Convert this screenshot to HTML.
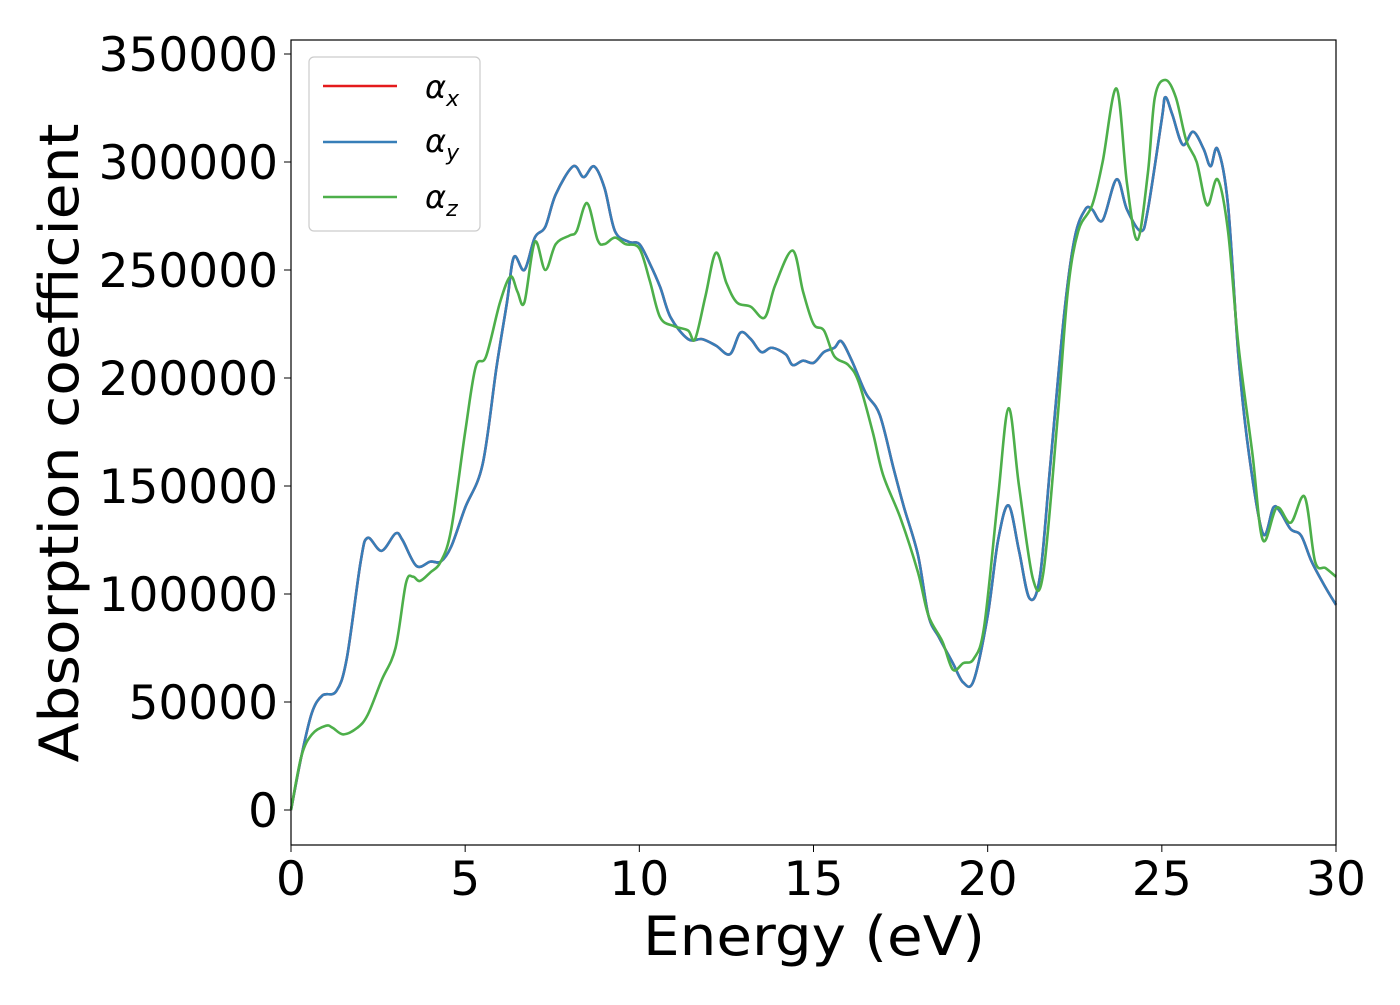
<!DOCTYPE html>
<html><head><meta charset="utf-8"><style>
body{margin:0;background:#fff;}
svg text{font-family:"DejaVu Sans","Liberation Sans",sans-serif;}
</style></head><body>
<svg id="chart" width="1400" height="1000" xmlns="http://www.w3.org/2000/svg">
<rect x="0" y="0" width="1400" height="1000" fill="#fff"/>
<g id="ticks"></g>
<g id="series"></g>
<rect x="291" y="40" width="1045" height="805" fill="none" stroke="#000" stroke-width="1.2"/>
<text x="814" y="955" font-size="54" text-anchor="middle" textLength="342" lengthAdjust="spacingAndGlyphs">Energy (eV)</text>
<text transform="translate(78,443) rotate(-90)" font-size="54" text-anchor="middle" textLength="639" lengthAdjust="spacingAndGlyphs">Absorption coefficient</text>
<g>
<rect x="309" y="57" width="171" height="174" rx="5" fill="#fff" stroke="#ccc" stroke-width="1.2"/>
<line x1="323" y1="86" x2="397" y2="86" stroke="#e41a1c" stroke-width="2.5"/>
<text x="425" y="98" font-size="32" font-style="italic">α<tspan font-size="22" dy="8">x</tspan></text>
<line x1="323" y1="142" x2="397" y2="142" stroke="#377eb8" stroke-width="2.5"/>
<text x="425" y="152" font-size="32" font-style="italic">α<tspan font-size="22" dy="8">y</tspan></text>
<line x1="323" y1="197" x2="397" y2="197" stroke="#4daf4a" stroke-width="2.5"/>
<text x="425" y="208" font-size="32" font-style="italic">α<tspan font-size="22" dy="8">z</tspan></text>
</g>
</svg>
<script>
const xTicks=[0,5,10,15,20,25,30];
const yTicks=[0,50000,100000,150000,200000,250000,300000,350000];
const energyXY=[0,0.3,0.6,0.9,1.3,1.6,2.0,2.2,2.6,3.0,3.2,3.6,4.0,4.3,4.6,5.0,5.5,5.9,6.2,6.4,6.7,7.0,7.3,7.6,8.1,8.4,8.7,9.0,9.3,9.7,10.0,10.3,10.6,10.9,11.4,11.8,12.2,12.6,12.9,13.2,13.5,13.8,14.2,14.4,14.7,15.0,15.3,15.6,15.8,16.1,16.5,16.9,17.3,17.6,18.0,18.3,18.6,19.0,19.3,19.6,20.0,20.3,20.6,20.9,21.2,21.5,21.8,22.2,22.5,22.8,23.0,23.3,23.7,24.0,24.4,24.6,25.0,25.1,25.3,25.6,25.9,26.2,26.4,26.6,26.9,27.2,27.5,27.9,28.2,28.4,28.7,29.0,29.3,29.7,30];
const alphaX=[0,25000,45000,53000,55000,70000,115000,126000,120000,128000,125000,113000,115000,115000,122000,140000,160000,205000,235000,256000,250000,265000,270000,285000,298000,293000,298000,288000,268000,263000,262000,253000,242000,228000,218000,218000,215000,211000,221000,218000,212000,214000,211000,206000,208000,207000,212000,214000,217000,208000,193000,183000,158000,140000,118000,90000,80000,68000,59000,60000,90000,125000,141000,120000,98000,108000,160000,230000,265000,278000,278000,273000,292000,278000,268000,278000,320000,330000,322000,308000,314000,306000,298000,306000,280000,210000,165000,128000,140000,138000,130000,127000,115000,103000,95000];
const alphaY=alphaX.slice();
const energyZ=[0,0.3,0.6,1.0,1.2,1.5,1.9,2.2,2.6,3.0,3.3,3.5,3.7,4.0,4.3,4.6,5.0,5.3,5.6,6.0,6.3,6.5,6.7,7.0,7.3,7.6,8.0,8.2,8.5,8.8,9.0,9.3,9.6,10.0,10.3,10.6,11.0,11.4,11.6,11.9,12.2,12.5,12.8,13.2,13.6,13.9,14.4,14.7,15.0,15.3,15.6,16.0,16.3,16.7,17.0,17.5,18.0,18.3,18.7,19.0,19.3,19.6,19.9,20.3,20.6,20.9,21.3,21.6,22.0,22.3,22.6,23.0,23.3,23.7,24.0,24.3,24.6,24.8,25.1,25.4,25.7,26.0,26.3,26.6,26.9,27.2,27.6,27.9,28.3,28.7,29.1,29.4,29.7,30];
const alphaZ=[0,25000,35000,39000,38000,35000,38000,44000,60000,75000,105000,108000,106000,110000,115000,130000,175000,205000,210000,235000,247000,240000,235000,263000,250000,262000,266000,268000,281000,264000,262000,265000,262000,260000,245000,228000,224000,222000,218000,238000,258000,244000,235000,233000,228000,243000,259000,240000,225000,222000,210000,206000,198000,175000,155000,135000,110000,90000,78000,65000,68000,70000,85000,145000,186000,150000,107000,110000,180000,240000,268000,280000,300000,334000,290000,264000,295000,330000,338000,330000,310000,300000,280000,292000,268000,215000,165000,125000,140000,133000,145000,115000,112000,108000];
const NS="http://www.w3.org/2000/svg";
const X0=291,X1=1336,Y0=810,Y350=54;
const xs=e=>X0+(e/30)*(X1-X0);
const ys=v=>Y0-(v/350000)*(Y0-Y350);
const tg=document.getElementById('ticks');
xTicks.forEach(t=>{
 const l=document.createElementNS(NS,'line');
 
 
 l.setAttribute('x1',xs(t));l.setAttribute('x2',xs(t));l.setAttribute('y1',845);l.setAttribute('y2',852);l.setAttribute('stroke','#000');
 tg.appendChild(l);
 const tx=document.createElementNS(NS,'text');
 
 
 tx.setAttribute('x',xs(t));tx.setAttribute('y',895);tx.setAttribute('font-size','47');tx.setAttribute('text-anchor','middle');
 tx.textContent=t;tg.appendChild(tx);
});
yTicks.forEach(t=>{
 const l=document.createElementNS(NS,'line');
 
 
 l.setAttribute('x1',284);l.setAttribute('x2',291);l.setAttribute('y1',ys(t));l.setAttribute('y2',ys(t));l.setAttribute('stroke','#000');
 tg.appendChild(l);
 const tx=document.createElementNS(NS,'text');
 
 
 tx.setAttribute('x',278);tx.setAttribute('y',ys(t)+17);tx.setAttribute('font-size','47');tx.setAttribute('text-anchor','end');
 tx.textContent=t;tg.appendChild(tx);
});
function smooth(ex,vals){
 const p=ex.map((e,i)=>[xs(e),ys(vals[i])]);
 let d='M'+p[0][0]+','+p[0][1];
 for(let i=0;i<p.length-1;i++){
  const a=p[Math.max(0,i-1)],b=p[i],c=p[i+1],n=p[Math.min(p.length-1,i+2)];
  const c1=[b[0]+(c[0]-a[0])/6,b[1]+(c[1]-a[1])/6],c2=[c[0]-(n[0]-b[0])/6,c[1]-(n[1]-b[1])/6];
  d+=' C'+c1[0]+','+c1[1]+' '+c2[0]+','+c2[1]+' '+c[0]+','+c[1];
 }
 return d;
}
const sg=document.getElementById('series');
function addLine(ex,vals,col,name){
 const pa=document.createElementNS(NS,'path');
 
 
 pa.setAttribute('d',smooth(ex,vals));pa.setAttribute('fill','none');pa.setAttribute('stroke',col);pa.setAttribute('stroke-width','2.6');
 sg.appendChild(pa);
}
addLine(energyXY,alphaX,'#e41a1c','series-alpha-x');
addLine(energyXY,alphaY,'#377eb8','series-alpha-y');
addLine(energyZ,alphaZ,'#4daf4a','series-alpha-z');
</script>
</body></html>
